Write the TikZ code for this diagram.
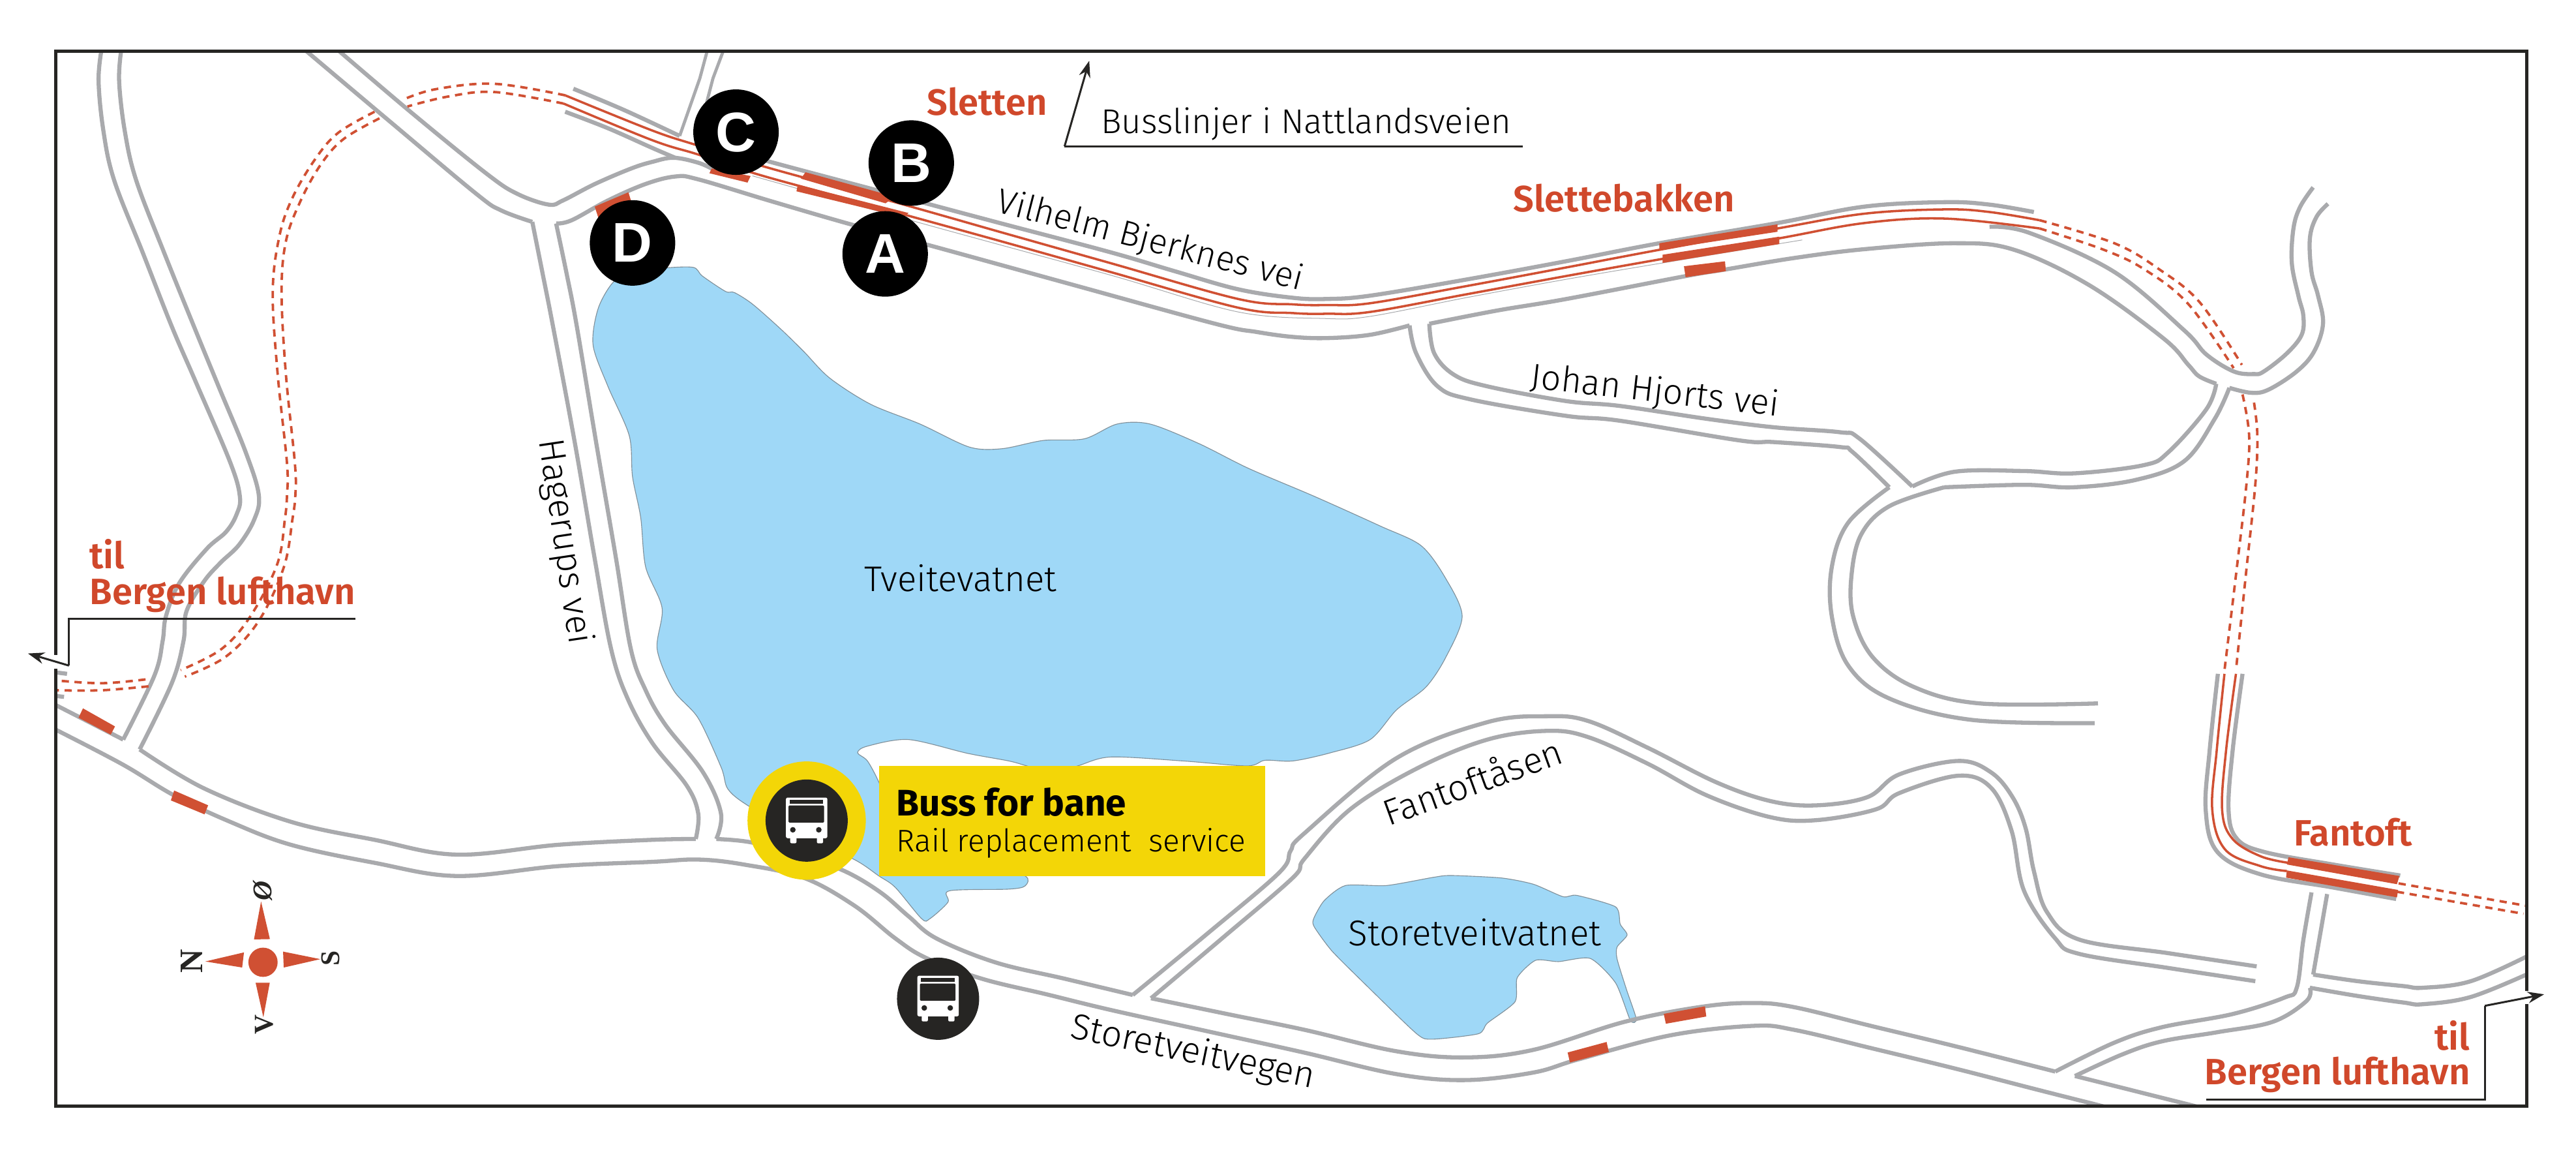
\documentclass[tikz,border=0pt]{standalone}
\usepackage{fontspec}
\setmainfont{Fira Sans Light}
\newfontfamily\hv{Fira Sans SemiBold}
\newfontfamily\hb{Fira Sans Bold}
\newfontfamily\lb{Liberation Sans}
\newfontfamily\ls{Liberation Serif}
\usetikzlibrary{arrows.meta}
\definecolor{roadgray}{HTML}{A9AAAD}
\definecolor{railred}{HTML}{D05033}
\definecolor{textred}{HTML}{D0482B}
\definecolor{lakeblue}{HTML}{9FD8F7}
\definecolor{lakeline}{HTML}{80909A}
\definecolor{busyellow}{HTML}{F3D607}
\definecolor{inkdark}{HTML}{262523}
\tikzset{
 road/.style={draw=roadgray,line width=2.5pt,line join=round},
 rail/.style={draw=railred,line width=1.4pt},
 dashrail/.style={draw=railred,line width=1.5pt,dash pattern=on 4.4pt off 3.4pt},
 platform/.style={fill=railred,draw=none},
 lake/.style={fill=lakeblue,draw=lakeline,line width=.45pt},
 note/.style={draw=inkdark,line width=1.2pt},
 notearrow/.style={note,-{Stealth[length=10pt,width=7pt]}},
 lbl/.style={inner sep=0pt,anchor=base west,text=black},
 stn/.style={inner sep=0pt,anchor=base west,text=textred},
 stop/.style={circle,fill=black,minimum size=52pt,inner sep=0pt,text=white},
 compass/.style={inner sep=0pt,rotate=90,text=inkdark},
 busicon/.pic={
  \fill[white,rounded corners=1pt] (-12.6,-14) rectangle (12.6,10.7);
  \fill[white,rounded corners=.8pt] (-10,8) rectangle (-6.2,13.8);
  \fill[white,rounded corners=.8pt] (6.2,8) rectangle (10,13.8);
  \fill[inkdark] (-10.4,-12.6) rectangle (10,-10.4);
  \fill[inkdark,rounded corners=.5pt] (-11,-9.2) rectangle (10.6,1.2);
  \fill[inkdark] (-8.4,5.6) circle (1.7);
  \fill[inkdark] (7.4,5.6) circle (1.7);
 }
}
\newcommand{\Rd}[1]{\draw[road] plot[smooth,tension=.6] coordinates {#1};}
\newcommand{\Rl}[1]{\draw[rail] plot[smooth,tension=.6] coordinates {#1};}
\newcommand{\Dr}[1]{\draw[dashrail] plot[smooth,tension=.6] coordinates {#1};}
\begin{document}
\begin{tikzpicture}[x=1pt,y=-1pt]
\useasboundingbox (0,0) rectangle (1568,704.6);
\fill[white] (0,0) rectangle (1568,704.6);
% lakes
\draw[lake] plot[smooth cycle,tension=.5] coordinates {(373,172)(385,165)(405,163)(422,162.7)(427.6,168)(441.6,177.3)(447,178)(458,185)(475,200)(489,213.6)(505,230)(530,246)(560,258)(590,272)(610,273)(635,268)(660,267)(680,258)(700,258)(730,270)(760,285)(800,302)(840,320)(865,332)(880,352)(890,375)(880,400)(868,418)(850,432)(834,450)(810,458)(787,463)(770,462.6)(759,466)(720,463)(676,460.6)(656,466)(640,470)(625,466)(614,463)(589,458.4)(553,450)(528,454)(522,458)(528,463)(535,476)(545,500)(600,525)(624,533)(624,539)(614,541)(578,542)(577,549)(566,559)(561,559)(545,540)(535,533)(520,523)(490,510)(455,490)(443,480)(439,467)(425,437)(410,420)(400,395)(403,370)(393,345)(390,315)(385,290)(383,265)(370,235)(361,210)(364,188)};
\draw[lake] plot[smooth cycle,tension=.4] coordinates {(799.6,559)(806,548)(819,538.8)(844,538.8)(872,533.9)(883,532.7)(913.8,534.2)(933.3,538)(951.4,545.6)(959.8,544.8)(983.4,551.8)(986.2,562.3)(990.4,568.9)(984.3,576.2)(984.3,583.5)(990,602)(996,620)(992.4,620.9)(983.4,598.1)(968,583.2)(948.6,585.1)(934.7,584.3)(923.5,594.9)(922.2,609.5)(905.4,622.5)(899.9,629)(872,632.3)(862.3,629)(830.2,598.1)(810.7,578.6)(800,564)};
% roads
\begin{scope}
\clip (33.8,31.3) rectangle (1538,673);
\Rd{(62,29)(60,49)(63,80)(69.6,110)(87,154)(104.5,198.5)(119,232)(140,281)(146,302)(144,313)(137.7,323.5)(125.8,334)(109,355)(101,375)(99,390)(94,411)(75,450)}
\Rd{(74,29)(72.5,49)(76,80)(83,110)(100,154)(118,198.5)(133,235)(149.5,275)(157.5,301)(154.8,316)(145.5,331.5)(134,342.6)(124,354)(113.5,372)(111.7,390)(104.6,415.6)(85,456)}
\Rd{(32,428)(75,450)}
\Rd{(32,443)(74.4,465)(106,484)(140,500)(177,514)(228,525)(278,533)(340,527)(397,524.4)(425,523)(452.6,526)(489,534)(520,551)(545,571)(564,583)(597.6,595.5)(637,605)(676,614.5)(735,627.5)(794,640.5)(849.7,653.5)(891.5,657.2)(933.3,652.6)(961,644.5)(1017,629.9)(1067,624.2)(1092,626.6)(1140,638)(1191,650.4)(1240,663)(1283.6,674)}
\Rd{(85,456)(124,479.6)(177,500)(228,511)(278,520)(340,514)(397,511)(423.5,510.5)}
\Rd{(423.5,510.5)(425,495)(418,478)(397,452)(382,425)(372,395)(362,340)(350,270)(336.5,198)(330,165)(324,135)}
\Rd{(324,135)(305,128)(290,118)(238,74.5)(184,29)}
\Rd{(204,29)(251,69)(296.6,106)(315,118)(334,124.5)(342.6,122)(362,112)(384,102.6)(397,98.5)(410,96)(425,99)(434,103)}
\Rd{(338.5,136)(348,134)(370,122)(392.8,112)(411,107.4)(424.9,109.1)(470,122.6)(516.8,136.2)(564,148.8)(652,173)(739.7,197)(765,202)(787,205)(808,205.7)(834,203.7)(858,198)}
\Rd{(338.5,136)(345,167)(351,198)(363,270)(375,340)(384,395)(393,420)(405,441)(428,470)(438.8,494.7)(436,510.5)}
\Rd{(436,510.5)(457,512.5)(486,520)(514,530)(536,543)(553,557.5)(570,571)(606,585.6)(648,595.5)(689.5,605.4)}
\Rd{(689.5,605.4)(735,568)(778.6,531)(785.6,517.6)(794,507)(849.7,461.5)(905,439.5)(941.7,435.8)(966.7,438.7)(1003,455)(1044.7,476)(1078,487.5)(1106,490)(1136.7,485)(1156,471.2)(1192,463)(1212,470)(1225,485)(1233,504)(1238,530)(1246,555)(1265.6,571.7)(1320,580)(1373.6,588)}
\Rd{(700.6,607.4)(745,570)(787,534)(794,522.5)(821.9,492.4)(863.6,467)(905.4,450)(941.7,444.7)(966.7,448.5)(1003,464.7)(1039,484)(1078,497.3)(1106,499)(1142,492.4)(1156,482.6)(1192,472)(1212,479.4)(1224.4,505.4)(1232,542)(1251,571)(1265.6,580.4)(1320,589)(1372.8,597)}
\Rd{(700.6,607.4)(747,617)(794,626.6)(849.7,639.6)(891.5,643.4)(933.3,638.8)(989,621.7)(1036.4,612.5)(1067,610.3)(1092,612.8)(1140,624.5)(1191,636.8)(1251,652)}
\Rd{(1251,652)(1287,634.4)(1316,625)(1359,617)(1390.5,607)(1398,601)(1402,572)(1407,543)}
\Rd{(1416.5,544)(1408,593)}
\Rd{(1408,593)(1435,597)(1463,600)(1475,601)(1504,597)(1540,581)}
\Rd{(1406,601)(1435,606)(1463,610)(1475,611)(1504,606.6)(1540,592)}
\Rd{(1406,601)(1404,609)(1383.5,621.7)(1350,628)(1316,633.6)(1292,641.5)(1263,654.7)}
\Rd{(1263,654.7)(1340,674)}
% top road
\Rd{(349,54)(380,67)(413.7,82.7)}
\Rd{(344,68)(370,78)(397,90)(411,96)}
\draw[road,line width=1.9pt] (413.7,82.7) -- (426,47.6) -- (431,29);
\draw[road,line width=1.9pt] (441,29) -- (434,47.6) -- (425,82);
\Rd{(440,90)(466.7,97.9)(533.5,115.7)(604,134.5)(675.6,153.4)(715,165)(753.6,176)(787,181.2)(808,181.9)(834,179.9)(893,170)(953,159)(1010,148)(1082,135.7)(1135,125.7)(1184,123)(1211,124.5)(1238,129)}
\Rd{(858,198)(862,215)(875,235)(895,243)(953,253)(986,256)(1059,268)(1080,269)(1120,272)(1127.6,275)(1150,296.5)}
\Rd{(870,197)(873,215)(885,228)(905,235)(953,244)(986,247)(1040,255)(1080,260)(1120,263)(1132,267)(1164,296)}
\Rd{(870,197)(911,189)(953,182)(1026,168)(1050,164)(1092,157)(1135,151.6)(1190,148)(1226,152)(1271.5,173.4)(1317,206)(1332,222)(1338.6,229)(1349,233.5)}
\Rd{(1349,233.5)(1343,249)(1320,275)(1305,283)(1262.6,288)(1232,286.6)(1190,287)(1164,296)}
\Rd{(1150,296.5)(1125,318)(1115,345)(1115,375)(1125,405)(1150,425)(1200,438)(1275,440)}
\Rd{(1183.4,296.5)(1150,308)(1133,325)(1127,350)(1128,375)(1140,400)(1165,418)(1205,428)(1277,428)}
\Rd{(1183.4,296.5)(1232,295)(1262,296.5)(1300,292)(1329.5,280.6)(1348,255)(1357,236)}
\Rd{(1357,236)(1370.4,239)(1381,237)(1398,226)(1408.5,214)(1414,197)(1411,180)(1407,165.5)(1406,145)(1410,132)(1417,124)}
\Rd{(1211,138)(1235,141.6)(1287,165.5)(1329.5,201)(1343,215.7)(1359.6,226)(1372,227.6)(1378,226)(1392,215)(1401,203.7)(1402,192)(1399,180)(1395,160)(1396,139)(1400,126)(1408,114)}
% Fantoft road
\Rd{(1350,410)(1345,456.5)(1342.6,493)(1349.8,518.5)(1376,532)(1420,540)(1458.5,547)}
\Rd{(1365,410)(1359,456.5)(1356.5,493)(1361.7,510.5)(1378.7,518.5)(1420,526)(1461,532.7)}
% stubs at left border
\draw[road] (33,409) -- (40.8,410);
\draw[road] (33,423.4) -- (39,424);
% thin sliver
\draw[roadgray,line width=.4pt] plot[smooth,tension=.55] coordinates {(458,107)(565,137)(675.6,167.3)(753.6,189.8)(806.5,193.8)(834,192.5)(893,181)(953,170)(1012,160)(1097,146)};
% rails
\Rl{(344,58)(397,79.4)(424.9,88.6)(466.7,101.8)(544.7,123)(610,141.5)(675.6,160)(753.6,181.9)(787,185.2)(808,185.6)(834,184.5)(893,174)(953,162.8)(1010,152)(1082,139)(1135,130)(1184,127.4)(1211,129)(1241.5,134)}
\Rl{(343,63)(397,85.3)(424.9,94)(458.3,105.2)(500,116.8)(544.7,129)(610,147)(675.6,165.4)(753.6,187.2)(787,190.5)(808,190.9)(834,189.8)(893,179)(953,168)(1012,157.5)(1083,145)(1135,135.7)(1184,133)(1241.5,139)}
\Rl{(1361,410)(1355,456.5)(1352.6,493)(1359,510.5)(1376,521)(1393,525)}
\Rl{(1354,410)(1349.3,456.5)(1346.6,493)(1354.5,517)(1376,527)(1392,530)}
% dashed rails
\Dr{(344,58)(301,51)(265,54.3)(245,60.8)}
\Dr{(343,63)(301,56)(273,58.7)(248,64.8)}
\Dr{(228,68)(206,80.7)(192,96.6)(178,120.4)(170,144)(166,178)(169,227.5)(174.7,282)(174.7,301)(173.4,316)(168.7,343.4)(152.4,375)(134.7,395)(110,407.7)}
\Dr{(231,72)(209,84.7)(195,100.5)(182.6,123)(174,147)(171.4,178)(174,227.5)(179.5,282)(179.8,301)(178,316)(172.8,345)(157.7,377.5)(137.4,399.6)(112.5,411.7)}
\Dr{(88.6,413.4)(62,415.7)(34,414)}
\Dr{(90.4,417.6)(62,420)(34,420)}
\Dr{(1241.5,134)(1287,148)(1314.5,164)(1339,184)(1364.6,222)}
\Dr{(1241.5,139)(1280.6,152)(1305.4,164)(1332,185)(1359.6,224)}
\Dr{(1365,240)(1369,264.6)(1367.4,294.5)(1361,350)(1354,408)}
\Dr{(1372,245)(1374,264.6)(1372.8,294.5)(1367,350)(1361,408)}
\Dr{(1460,537.5)(1537,551)}
\Dr{(1459,542.6)(1536,556)}
\end{scope}
% platforms
\fill[platform] (50.5,431)--(70,442)--(67.4,447)--(47.8,436.7)--cycle;
\fill[platform] (106,481)--(126.7,490)--(124.5,495.5)--(104,487)--cycle;
\fill[platform] (382.5,117)--(362,125.7)--(365,135)--(385,125)--cycle;
\fill[platform] (433.2,102.5)--(456.9,107.1)--(455,111.1)--(431.8,105.4)--cycle;
\fill[platform] (490.3,104.8)--(544.7,119.7)--(539,123.7)--(487.5,108.7)--cycle;
\fill[platform] (485.6,112.4)--(553,129.6)--(550,132.3)--(484.8,116.4)--cycle;
\fill[platform] (1010,148)--(1082,136.5)--(1082,141)--(1010,152)--cycle;
\fill[platform] (1012,155)--(1083,144)--(1083,148.5)--(1012,160)--cycle;
\fill[platform] (1025,162)--(1050,159)--(1050.5,165)--(1026,168.7)--cycle;
\fill[platform] (1393,521.6)--(1460.5,533)--(1459,538)--(1392,526)--cycle;
\fill[platform] (1392,529.6)--(1459.7,541.5)--(1459,546)--(1391.5,534)--cycle;
\fill[platform] (1012.7,616.9)--(1037.8,612.3)--(1038.6,618.5)--(1014,622.9)--cycle;
\fill[platform] (954.2,640.4)--(977.9,634)--(979.3,640.1)--(955.6,646.5)--cycle;
% stop circles
\node[stop,font=\lb\bfseries\fontsize{34}{34}\selectfont] (stopC) at (448,80.4) {C};
\node[stop,font=\lb\bfseries\fontsize{34}{34}\selectfont] (stopB) at (554.7,99.2) {B};
\node[stop,font=\lb\bfseries\fontsize{34}{34}\selectfont] (stopA) at (538.8,154.5) {A};
\node[stop,font=\lb\bfseries\fontsize{34}{34}\selectfont] (stopD) at (385,147.8) {D};
% bus for bane
\fill[busyellow] (535,466) rectangle (770,533);
\node[circle,fill=busyellow,minimum size=72pt,inner sep=0pt] (ringbus) at (491,499.3) {};
\node[circle,fill=inkdark,minimum size=50pt,inner sep=0pt] (discbus) at (491,499.3) {};
\pic at (491,499.3) {busicon};
\node[circle,fill=inkdark,minimum size=50pt,inner sep=0pt] (discbustwo) at (571,607.7) {};
\pic at (571,607.7) {busicon};
\node[lbl,font=\hb\fontsize{22.5}{22.5}\selectfont] (bfb) at (545.5,496.3) {Buss for bane};
\node[lbl,font=\fontsize{19}{19}\selectfont] (rrs) at (545.5,518.4) {Rail replacement\ \ service};
% labels
\node[stn,font=\hv\fontsize{22.3}{22.3}\selectfont] (lsletten) at (564,70) {Sletten};
\node[stn,font=\hv\fontsize{22.3}{22.3}\selectfont] (lslette) at (921,129) {Slettebakken};
\node[stn,font=\hv\fontsize{22.3}{22.3}\selectfont] (lfantoft) at (1396,514.8) {Fantoft};
\node[stn,font=\hv\fontsize{22.3}{22.3}\selectfont] (ltilw) at (54.4,346) {til};
\node[stn,font=\hv\fontsize{22.3}{22.3}\selectfont] (lbergw) at (54.4,367.8) {Bergen lufthavn};
\node[stn,anchor=base east,font=\hv\fontsize{22.3}{22.3}\selectfont] (ltile) at (1503.5,638.8) {til};
\node[stn,anchor=base east,font=\hv\fontsize{22.3}{22.3}\selectfont] (lberge) at (1503.8,660) {Bergen lufthavn};
\node[lbl,font=\fontsize{20.9}{20.9}\selectfont] (lbuss) at (670,81) {Busslinjer i Nattlandsveien};
\node[lbl,rotate=-14.5,font=\fontsize{21.2}{21.2}\selectfont] (lvil) at (605.5,128.6) {Vilhelm Bjerknes vei};
\node[lbl,rotate=-6.5,font=\fontsize{21.4}{21.4}\selectfont] (ljoh) at (931,236) {Johan Hjorts vei};
\node[lbl,rotate=-81.5,font=\fontsize{21.8}{21.8}\selectfont] (lhag) at (328,268) {Hagerups vei};
\node[lbl,rotate=20,font=\fontsize{22}{22}\selectfont] (lfan) at (845,503) {Fantoftåsen};
\node[lbl,rotate=-11.7,font=\fontsize{22}{22}\selectfont] (lsto) at (650.5,631.4) {Storetveitvegen};
\node[lbl,font=\fontsize{21.7}{21.7}\selectfont] (ltve) at (526,360) {Tveitevatnet};
\node[lbl,font=\fontsize{21.8}{21.8}\selectfont] (lstv) at (820.5,575.4) {Storetveitvatnet};
% compass
\fill[railred] (160.1,585.5) circle (8.9);
\fill[railred] (154.6,571.6)--(164.3,571.4)--(158.9,548.5)--cycle;
\fill[railred] (172.3,579)--(172.7,588.7)--(195,583.6)--cycle;
\fill[railred] (155.6,598)--(164.2,598)--(160.3,619)--cycle;
\fill[railred] (148.5,579.5)--(147.4,588.7)--(125,585)--cycle;
\node[compass,font=\ls\bfseries\fontsize{20}{20}\selectfont] (cN) at (116.9,585) {N};
\node[compass,font=\ls\bfseries\fontsize{16.5}{16.5}\selectfont] (cS) at (201.4,583) {S};
\node[compass,font=\ls\bfseries\itshape\fontsize{16.5}{16.5}\selectfont] (cO) at (159.8,541.9) {Ø};
\node[compass,font=\ls\bfseries\fontsize{16.5}{16.5}\selectfont] (cV) at (161,623.5) {V};
% frame
\draw[inkdark,line width=2pt] (33.8,31.3) rectangle (1538,673);
\draw[white,line width=3pt] (33.8,398.6) -- (33.8,407);
\draw[white,line width=3pt] (1538,603) -- (1538,611);
% annotation lines
\coordinate (awa) at (216.5,376.5);
\coordinate (awb) at (42,376.5);
\coordinate (awc) at (42,405);
\coordinate (awd) at (17,397.6);
\draw[note] (awa) -- (awb) -- (awc);
\draw[notearrow] (awc) -- (awd);
\coordinate (aea) at (1343,669);
\coordinate (aeb) at (1512.5,669);
\coordinate (aec) at (1512.5,612);
\coordinate (aed) at (1548.6,605);
\draw[note] (aea) -- (aeb) -- (aec);
\draw[notearrow] (aec) -- (aed);
\coordinate (ana) at (927,89);
\coordinate (anb) at (648,89);
\coordinate (anc) at (663,37);
\draw[note] (ana) -- (anb);
\draw[notearrow] (anb) -- (anc);
\end{tikzpicture}
\end{document}
